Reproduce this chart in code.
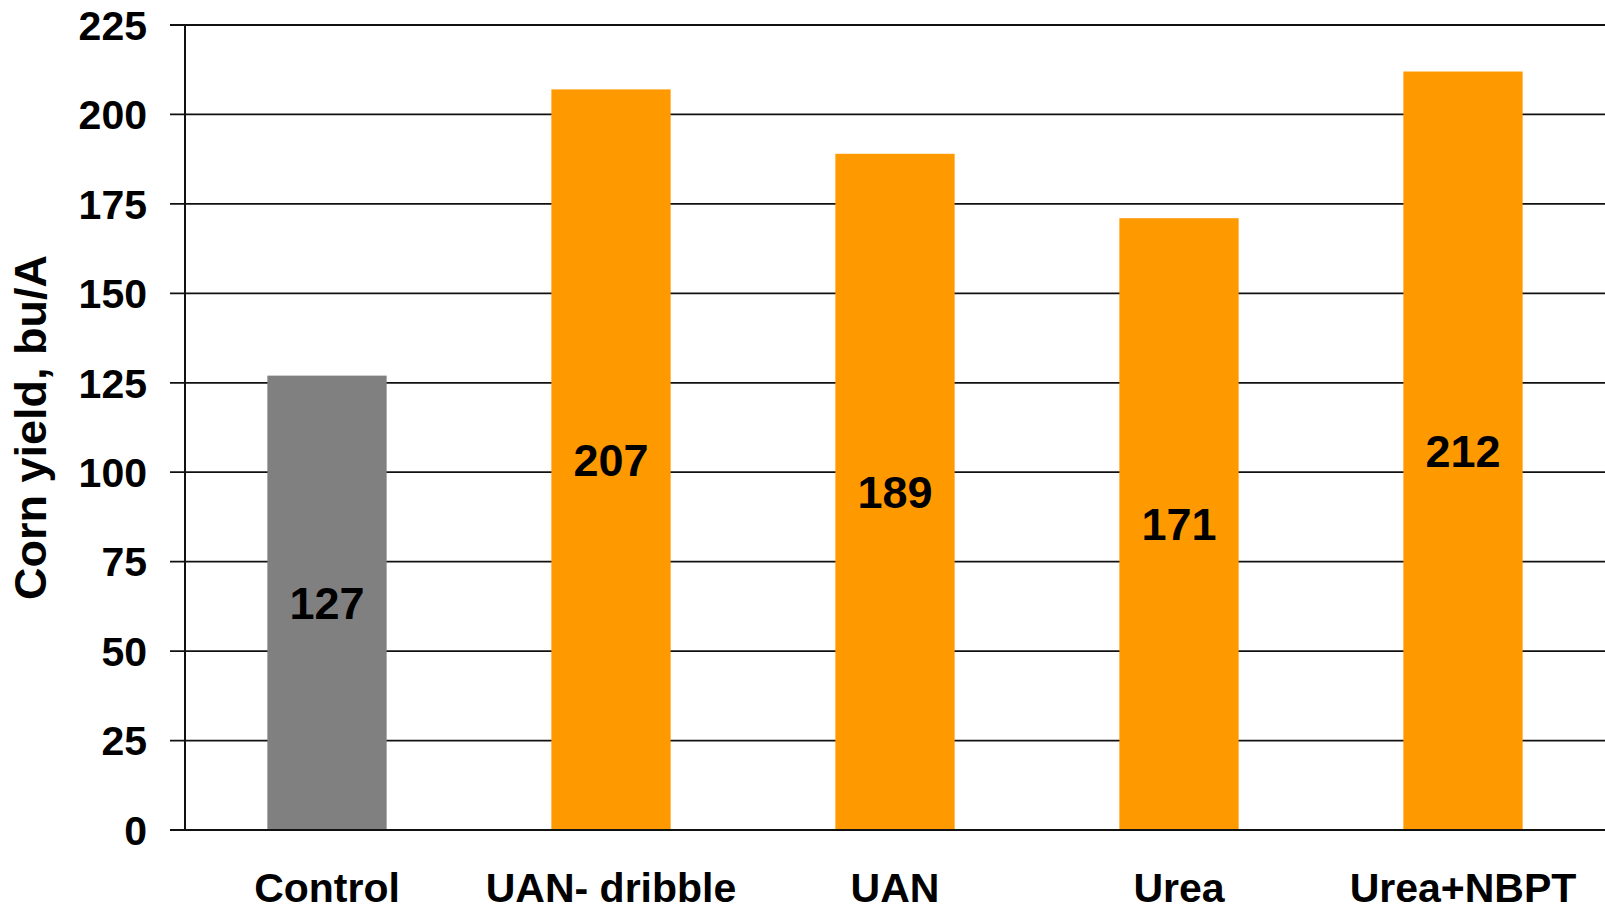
<!DOCTYPE html>
<html>
<head>
<meta charset="utf-8">
<script src="https://cdn.jsdelivr.net/npm/d3@7"></script>
<style>
  body { margin: 0; background: #fff; }
  text { font-family: "Liberation Sans", Arial, sans-serif; font-weight: bold; fill: #000; }
</style>
</head>
<body>
<div class="container"></div>
<script>
const categories = ["Control", "UAN- dribble", "UAN", "Urea", "Urea+NBPT"];
const yields = [127, 207, 189, 171, 212];
const barColors = ["#808080", "#FF9900", "#FF9900", "#FF9900", "#FF9900"];
const yTicks = [0, 25, 50, 75, 100, 125, 150, 175, 200, 225];

const width = 1605;
const height = 909;
const margin = { top: 25, right: 0, bottom: 79, left: 185 };

let svg = d3
  .select(".container")
  .append("svg")
  .attr("width", width)
  .attr("height", height);

const x = d3
  .scaleBand()
  .domain(categories)
  .range([margin.left, width - margin.right])
  .paddingInner(0.58)
  .paddingOuter(0.29);

const y = d3
  .scaleLinear()
  .domain([0, 225])
  .range([height - margin.bottom, margin.top]);

// gridlines + tick marks
let grid = svg.append("g").attr("class", "grid");
grid
  .selectAll("line")
  .data(yTicks)
  .enter()
  .append("line")
  .attr("x1", margin.left - 15)
  .attr("x2", width)
  .attr("y1", d => y(d))
  .attr("y2", d => y(d))
  .attr("stroke", "#111")
  .attr("stroke-width", 1.8);

// bars
svg
  .append("g")
  .selectAll("rect")
  .data(yields)
  .enter()
  .append("rect")
  .attr("x", (d, i) => x(categories[i]))
  .attr("width", x.bandwidth())
  .attr("y", d => y(d))
  .attr("height", d => y(0) - y(d))
  .attr("fill", (d, i) => barColors[i]);

// axes lines
svg
  .append("line")
  .attr("x1", margin.left)
  .attr("x2", margin.left)
  .attr("y1", y(225))
  .attr("y2", y(0))
  .attr("stroke", "#111")
  .attr("stroke-width", 2);
svg
  .append("line")
  .attr("x1", margin.left - 15)
  .attr("x2", width)
  .attr("y1", y(0))
  .attr("y2", y(0))
  .attr("stroke", "#111")
  .attr("stroke-width", 2);

// y tick labels
svg
  .append("g")
  .selectAll("text")
  .data(yTicks)
  .enter()
  .append("text")
  .attr("x", 147)
  .attr("y", d => y(d))
  .attr("dy", "0.36em")
  .attr("text-anchor", "end")
  .style("font-size", "41px")
  .text(d => d);

// x labels
svg
  .append("g")
  .selectAll("text")
  .data(categories)
  .enter()
  .append("text")
  .attr("x", d => x(d) + x.bandwidth() / 2)
  .attr("y", 902)
  .attr("text-anchor", "middle")
  .style("font-size", "41px")
  .text(d => d);

// value labels
svg
  .append("g")
  .selectAll("text")
  .data(yields)
  .enter()
  .append("text")
  .attr("x", (d, i) => x(categories[i]) + x.bandwidth() / 2)
  .attr("y", d => (y(d) + y(0)) / 2)
  .attr("dy", "0.36em")
  .attr("text-anchor", "middle")
  .style("font-size", "45px")
  .text(d => d);

// y axis title
svg
  .append("text")
  .attr("transform", "translate(46," + (y(0) + y(225)) / 2 + ") rotate(-90)")
  .attr("text-anchor", "middle")
  .style("font-size", "45px")
  .text("Corn yield, bu/A");
</script>
</body>
</html>
